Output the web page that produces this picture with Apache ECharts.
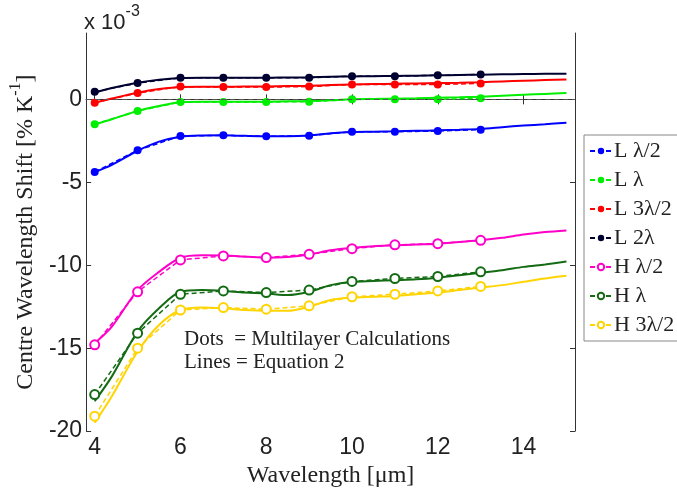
<!DOCTYPE html>
<html>
<head>
<meta charset="utf-8">
<script src="https://cdn.jsdelivr.net/npm/echarts@6/dist/echarts.min.js"></script>
<style>
  html, body { margin: 0; padding: 0; background: #fff; }
  #main { width: 677px; height: 493px; }
</style>
</head>
<body>
<div id="main"></div>
<script>
// wavelength of the multilayer dots and of the equation curves
var dotX = [4, 5, 6, 7, 8, 9, 10, 11, 12, 13];
var eqX = [4, 4.4, 5, 5.5, 6, 6.5, 7, 7.5, 8, 8.5, 9, 9.5, 10, 10.5, 11, 11.5, 12, 12.5, 13, 13.5, 14, 14.5, 15];

var names = ['L λ/2', 'L λ', 'L 3λ/2', 'L 2λ', 'H λ/2', 'H λ', 'H 3λ/2'];
var colors = ['#0000ff', '#00ee00', '#ff0000', '#000030', '#ff00c8', '#136b13', '#ffd400'];
var hollow = [false, false, false, false, true, true, true];

// multilayer calculations (x 1e-3)
var dotLhalf = [-4.38, -3.07, -2.21, -2.17, -2.23, -2.19, -1.95, -1.95, -1.91, -1.83];
var dotL1 = [-1.5, -0.7, -0.16, -0.16, -0.16, -0.14, 0, 0, 0, 0.06];
var dotL3half = [-0.2, 0.38, 0.77, 0.74, 0.74, 0.77, 0.9, 0.9, 0.9, 0.96];
var dotL2 = [0.46, 0.98, 1.3, 1.3, 1.3, 1.3, 1.4, 1.4, 1.45, 1.5];
var dotHhalf = [-14.8, -11.6, -9.68, -9.44, -9.54, -9.34, -9.0, -8.77, -8.7, -8.5];
var dotH1 = [-17.8, -14.1, -11.75, -11.55, -11.65, -11.5, -10.98, -10.8, -10.68, -10.4];
var dotH3half = [-19.1, -15.0, -12.7, -12.55, -12.65, -12.45, -11.9, -11.75, -11.55, -11.28];

// equation 2 curves (x 1e-3)
var eqLhalf = [-4.38, -3.95, -3.1, -2.55, -2.25, -2.18, -2.17, -2.2, -2.22, -2.22, -2.18, -2.05, -1.97, -1.95, -1.93, -1.9, -1.87, -1.83, -1.78, -1.68, -1.58, -1.5, -1.41];
var eqL1 = [-1.5, -1.2, -0.7, -0.4, -0.18, -0.15, -0.15, -0.15, -0.14, -0.12, -0.1, -0.05, 0.0, 0.02, 0.04, 0.06, 0.09, 0.12, 0.16, 0.22, 0.28, 0.33, 0.38];
var eqL3half = [-0.2, 0.05, 0.4, 0.62, 0.75, 0.76, 0.76, 0.77, 0.78, 0.8, 0.82, 0.86, 0.9, 0.92, 0.94, 0.96, 0.98, 1.0, 1.03, 1.08, 1.12, 1.16, 1.2];
var eqL2 = [0.4, 0.68, 1.0, 1.18, 1.28, 1.3, 1.3, 1.3, 1.3, 1.32, 1.33, 1.36, 1.38, 1.4, 1.41, 1.43, 1.45, 1.47, 1.49, 1.51, 1.53, 1.54, 1.55];
var eqHhalf = [-14.7, -13.7, -11.5, -10.4, -9.55, -9.4, -9.42, -9.48, -9.55, -9.5, -9.35, -9.1, -8.95, -8.85, -8.8, -8.75, -8.7, -8.6, -8.5, -8.35, -8.15, -8.0, -7.9];
var eqH1 = [-18.2, -16.7, -14.0, -12.6, -11.6, -11.5, -11.55, -11.65, -11.7, -11.8, -11.6, -11.2, -11.0, -10.95, -10.9, -10.85, -10.75, -10.6, -10.45, -10.3, -10.1, -9.95, -9.78];
var eqH3half = [-19.5, -17.9, -15.2, -13.6, -12.7, -12.55, -12.6, -12.7, -12.75, -12.75, -12.5, -12.1, -11.95, -11.9, -11.85, -11.75, -11.65, -11.5, -11.35, -11.2, -11.0, -10.8, -10.64];

var xTicks = [4, 6, 8, 10, 12, 14];
var yTicks = [-20, -15, -10, -5, 0];

var dots = [dotLhalf, dotL1, dotL3half, dotL2, dotHhalf, dotH1, dotH3half];
var eqs = [eqLhalf, eqL1, eqL3half, eqL2, eqHhalf, eqH1, eqH3half];

function pairs(xs, ys) {
  return xs.map(function (x, i) { return [x, ys[i]]; });
}

var series = [];
// solid equation curves first
eqs.forEach(function (ys, i) {
  series.push({
    name: 'eq ' + names[i],
    type: 'line',
    data: pairs(eqX, ys),
    showSymbol: false,
    smooth: 0.3,
    silent: true,
    lineStyle: { color: colors[i], width: 2 },
    z: 2
  });
});
// dashed multilayer series with markers
dots.forEach(function (ys, i) {
  var s = {
    name: names[i],
    type: 'line',
    data: pairs(dotX, ys),
    symbol: hollow[i] ? 'emptyCircle' : 'circle',
    symbolSize: hollow[i] ? 9 : 8,
    itemStyle: { color: colors[i], borderColor: colors[i], borderWidth: hollow[i] ? 1.3 : 0 },
    lineStyle: { color: colors[i], width: 1.5, type: [5, 3] },
    z: 3
  };
  if (i === 0) {
    s.markLine = {
      silent: true,
      symbol: 'none',
      label: { show: false },
      lineStyle: { color: '#555', type: [5, 4], width: 1.2 },
      data: [{ yAxis: 0 }]
    };
  }
  series.push(s);
});

var axisLineStyle = { show: true, lineStyle: { color: '#333', width: 1 } };

var chart = echarts.init(document.getElementById('main'));
chart.setOption({
  animation: false,
  backgroundColor: '#fff',
  grid: { left: 83, right: 102, top: 33, bottom: 60 },
  xAxis: [{
    type: 'value', min: 3.8, max: 15.2, position: 'bottom',
    axisLine: axisLineStyle,
    axisTick: { inside: true, length: 5, customValues: xTicks, lineStyle: { color: '#333' } },
    axisLabel: { customValues: xTicks, margin: 5, fontFamily: 'Liberation Sans', fontSize: 23, color: '#222' },
    splitLine: { show: false },
    name: 'Wavelength [μm]', nameLocation: 'middle', nameGap: 26,
    nameTextStyle: { fontFamily: 'Liberation Serif', fontSize: 24, color: '#222' }
  }, {
    type: 'value', min: 3.8, max: 15.2, position: 'top',
    axisLine: axisLineStyle,
    axisTick: { inside: true, length: 5, customValues: xTicks, lineStyle: { color: '#333' } },
    axisLabel: { show: false },
    splitLine: { show: false }
  }],
  yAxis: [{
    type: 'value', min: -20, max: 4, position: 'left',
    axisLine: axisLineStyle,
    axisTick: { inside: true, length: 5, customValues: yTicks, lineStyle: { color: '#333' } },
    axisLabel: { customValues: yTicks, margin: 4, fontFamily: 'Liberation Sans', fontSize: 23, color: '#222' },
    splitLine: { show: false },
    name: '{a|Centre Wavelength Shift [% K}{s|-1}{a|]}',
    nameLocation: 'middle', nameGap: 42, nameRotate: 90,
    nameTextStyle: {
      rich: {
        a: { fontFamily: 'Liberation Serif', fontSize: 24, color: '#222', lineHeight: 30, verticalAlign: 'bottom' },
        s: { fontFamily: 'Liberation Serif', fontSize: 16, color: '#222', lineHeight: 30, verticalAlign: 'top', padding: [0, 0, 12, 0] }
      }
    }
  }, {
    type: 'value', min: -20, max: 4, position: 'right',
    axisLine: axisLineStyle,
    axisTick: { inside: true, length: 5, customValues: yTicks, lineStyle: { color: '#333' } },
    axisLabel: { show: false },
    splitLine: { show: false }
  }],
  legend: {
    data: names,
    orient: 'vertical',
    left: 584, top: 135,
    itemWidth: 22, itemHeight: 8, itemGap: 7,
    padding: [5, 10, 5, 5],
    borderColor: '#888', borderWidth: 1,
    backgroundColor: '#fff',
    textStyle: { fontFamily: 'Liberation Serif', fontSize: 22, color: '#222', padding: [0, 0, 0, -3] }
  },
  graphic: [{
    type: 'text', left: 84, top: 4,
    style: {
      text: '{a|x 10}{b|-3}',
      rich: {
        a: { fontFamily: 'Liberation Sans', fontSize: 22, fill: '#222', lineHeight: 30, verticalAlign: 'bottom' },
        b: { fontFamily: 'Liberation Sans', fontSize: 16, fill: '#222', lineHeight: 30, verticalAlign: 'top' }
      }
    }
  }, {
    type: 'text', left: 184, top: 328,
    style: {
      text: 'Dots  = Multilayer Calculations\nLines = Equation 2',
      fontFamily: 'Liberation Serif', fontSize: 21, fill: '#222', lineHeight: 23
    }
  }],
  series: series
});
</script>
</body>
</html>
